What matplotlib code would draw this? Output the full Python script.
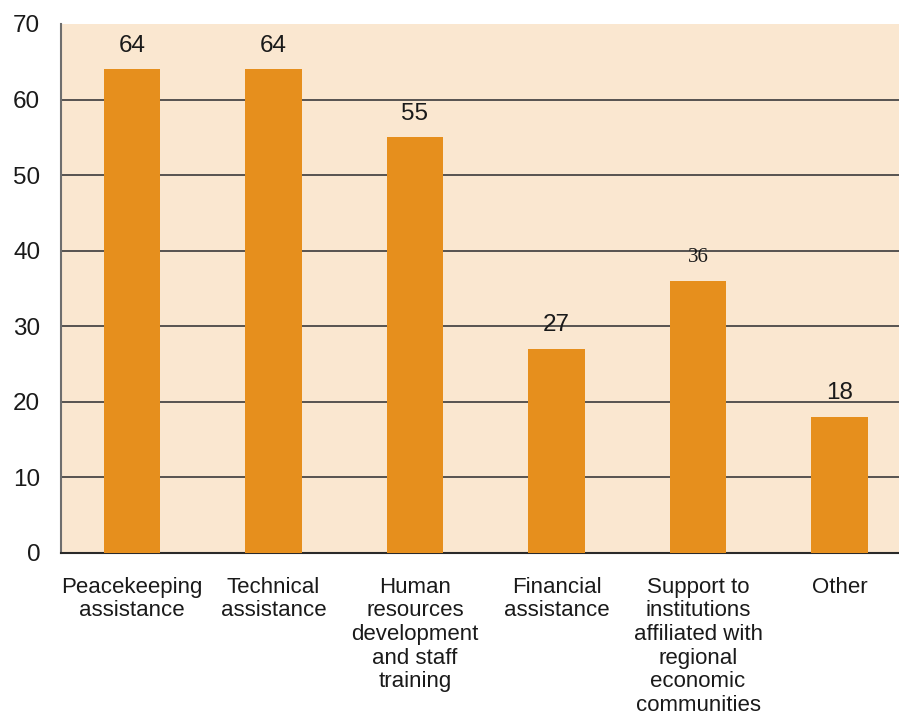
import matplotlib.pyplot as plt

categories = ["Peacekeeping\nassistance", "Technical\nassistance",
              "Human\nresources\ndevelopment\nand staff\ntraining",
              "Financial\nassistance",
              "Support to\ninstitutions\naffiliated with\nregional\neconomic\ncommunities",
              "Other"]
values = [64, 64, 55, 27, 36, 18]
yticks = [0, 10, 20, 30, 40, 50, 60, 70]

plt.rcParams['font.family'] = ['Liberation Sans', 'DejaVu Sans']

fig = plt.figure(figsize=(8.99, 7.16), dpi=100)
ax = fig.add_axes([0.0679, 0.2277, 0.9321, 0.7388])
ax.set_facecolor('#FAE7D0')

x = list(range(len(values)))
ax.bar(x, values, width=0.40, color='#E68F1D', zorder=3)

for xi, v in zip(x, values):
    # the 36 label is set in a serif face in the original
    if v == 36:
        ax.annotate(str(v), (xi, v), xytext=(0, 10), textcoords='offset points',
                    ha='center', va='bottom', fontsize=15, family='Liberation Serif',
                    color='#1a1a1a', zorder=4)
    else:
        ax.annotate(str(v), (xi, v), xytext=(0, 9), textcoords='offset points',
                    ha='center', va='bottom', fontsize=17.5, color='#1a1a1a', zorder=4)

ax.set_xlim(-0.5, 5.42)
ax.set_ylim(0, 70)
ax.set_yticks(yticks)
ax.set_xticks(x)
ax.set_xticklabels(categories, fontsize=16, linespacing=1.17, color='#1a1a1a')
ax.tick_params(axis='y', length=0, pad=15, labelsize=17.5, labelcolor='#1a1a1a')
ax.tick_params(axis='x', length=0, pad=17)

# gridlines (none at the top)
for t in yticks[1:-1]:
    ax.axhline(t, color='#3a3a3a', linewidth=1.2, zorder=1)

for s in ['top', 'right']:
    ax.spines[s].set_visible(False)
ax.spines['left'].set_color('#6e6e6e')
ax.spines['left'].set_linewidth(1.5)
ax.spines['bottom'].set_color('#2a2a2a')
ax.spines['bottom'].set_linewidth(1.5)

fig.savefig('out.png', dpi=100)
